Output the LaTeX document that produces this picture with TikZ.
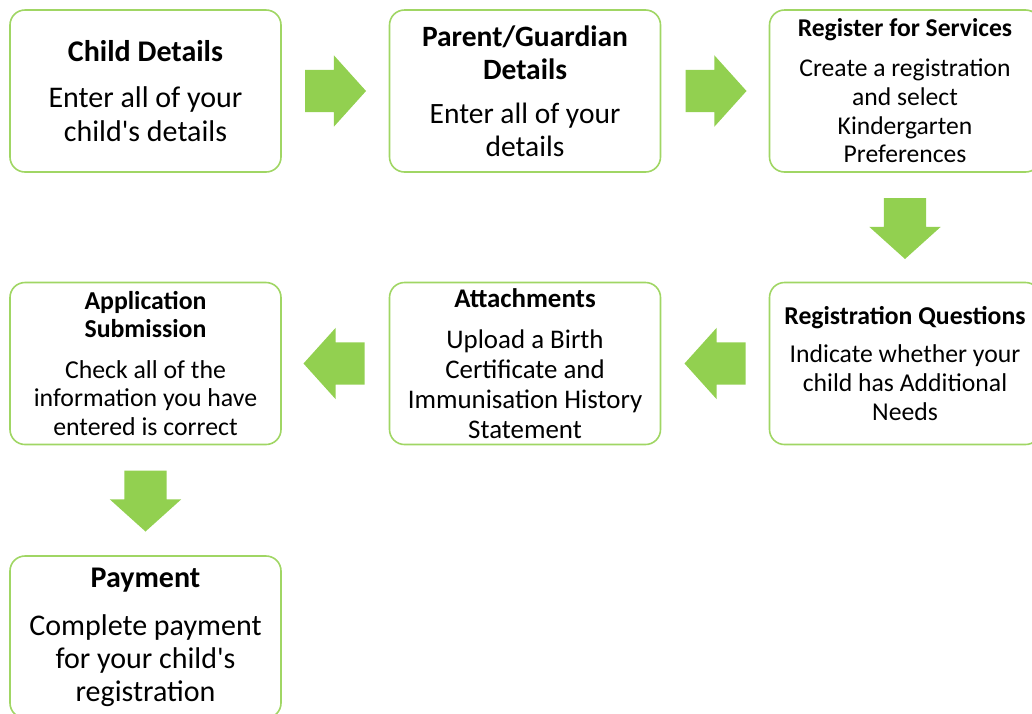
\documentclass[tikz,border=0pt]{standalone}
\usepackage{fontspec}
\setmainfont{Carlito}
\usepackage{tikz}
\usetikzlibrary{arrows.meta,positioning,shapes.arrows}
\definecolor{stepc}{RGB}{146,208,80}
\definecolor{edgec}{RGB}{160,214,100}

\begin{document}
\begin{tikzpicture}[x=1pt,y=-1pt,
  stage/.style={draw=edgec,line width=1.6pt,rounded corners=15pt,fill=white,
    minimum width=271pt,minimum height=162pt,align=center,inner sep=0pt},
  flow/.style={single arrow,fill=stepc,draw=none,inner xsep=0pt,inner ysep=21pt,
    minimum height=61pt,minimum width=71pt,single arrow head extend=14.5pt,
    single arrow tip angle=96}]
\useasboundingbox (0,0) rectangle (1032,713);
\clip (0,0) rectangle (1032,713);
% top row
\node[stage,font=\fontsize{30}{34}\selectfont] (child) at (145.5,91)
  {\textbf{Child Details}\\[12pt]Enter all of your\\child\textquotesingle s details};
\node[stage,font=\fontsize{29.5}{33}\selectfont] (parent) at (525,91)
  {\textbf{Parent/Guardian}\\\textbf{Details}\\[11pt]Enter all of your\\details};
\node[stage,font=\fontsize{25.6}{28.7}\selectfont] (services) at (905,91)
  {\textbf{Register for Services}\\[11pt]Create a registration\\and select\\Kindergarten\\Preferences};
% middle row
\node[stage,font=\fontsize{25.7}{29}\selectfont] (questions) at (905,363.5)
  {\textbf{Registration Questions}\\[9pt]Indicate whether your\\child has Additional\\Needs};
\node[stage,font=\fontsize{26.9}{30}\selectfont] (attach) at (525,363.5)
  {\textbf{Attachments}\\[11pt]Upload a Birth\\Certificate and\\Immunisation History\\Statement};
\node[stage,font=\fontsize{25.8}{28.5}\selectfont] (submit) at (145.5,363.5)
  {\textbf{Application}\\\textbf{Submission}\\[12pt]Check all of the\\information you have\\entered is correct};
% last step
\node[stage,font=\fontsize{30}{33}\selectfont] (payment) at (145.5,637)
  {\textbf{Payment}\\[15pt]Complete payment\\for your child\textquotesingle s\\registration};
% block arrows between the steps
\node[flow,right=23pt of child,anchor=tail] (a1) {};
\node[flow,right=24pt of parent,anchor=tail] (a2) {};
\node[flow,below=25pt of services,anchor=tail,rotate=-90] (a3) {};
\node[flow,left=23pt of questions,anchor=tail,rotate=180] (a4) {};
\node[flow,left=24pt of attach,anchor=tail,rotate=180] (a5) {};
\node[flow,below=25pt of submit,anchor=tail,rotate=-90] (a6) {};
\end{tikzpicture}
\end{document}
